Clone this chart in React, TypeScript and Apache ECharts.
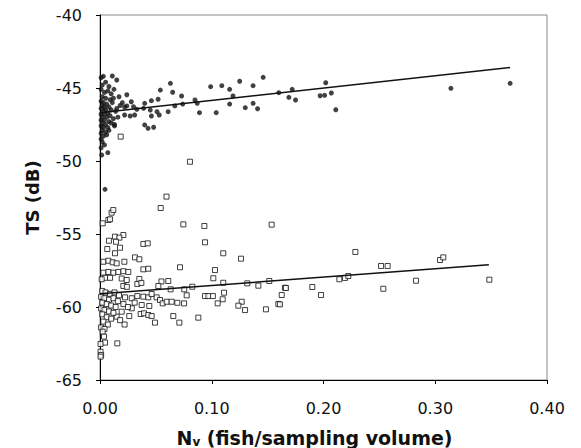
import React, { useEffect, useRef } from "react";
import * as echarts from "echarts";

const xTicks = [0, 0.1, 0.2, 0.3, 0.4];
const yRange = [-65, -40];

// Filled circles (upper group)
const filledPoints: number[][] = [
  [0.001,-44.3],[0.003,-44.2],[0.002,-44.8],[0.005,-44.6],[0.008,-44.9],[0.001,-45.1],[0.004,-45.3],[0.007,-45.2],[0.010,-45.4],[0.002,-45.6],
  [0.005,-45.7],[0.009,-45.8],[0.001,-45.9],[0.003,-46.0],[0.006,-46.1],[0.011,-46.0],[0.002,-46.2],[0.004,-46.3],[0.008,-46.3],[0.001,-46.4],
  [0.005,-46.5],[0.010,-46.5],[0.003,-46.6],[0.007,-46.7],[0.001,-46.8],[0.004,-46.8],[0.009,-46.9],[0.002,-47.0],[0.006,-47.0],[0.012,-47.1],
  [0.001,-47.2],[0.004,-47.2],[0.008,-47.3],[0.002,-47.4],[0.005,-47.5],[0.010,-47.4],[0.001,-47.6],[0.003,-47.7],[0.007,-47.7],[0.002,-47.9],
  [0.005,-48.0],[0.001,-48.1],[0.003,-48.3],[0.006,-48.2],[0.001,-48.5],[0.002,-48.7],[0.004,-48.9],[0.001,-49.1],[0.008,-47.9],[0.014,-46.6],
  [0.016,-47.0],[0.013,-47.5],[0.018,-46.2],[0.012,-45.7],[0.015,-46.4],[0.020,-46.0],[0.022,-46.3],
  [0.011,-44.18],[0.015,-44.45],[0.0125,-45.09],[0.024,-45.46],[0.017,-45.6],[0.063,-44.68],[0.054,-45.14],[0.065,-45.29],[0.073,-45.55],
  [0.099,-44.91],[0.109,-44.84],[0.116,-45.09],[0.119,-45.55],[0.125,-44.54],[0.137,-44.84],[0.146,-44.27],[0.160,-45.32],[0.169,-45.64],
  [0.046,-45.87],[0.052,-45.77],[0.040,-46.05],[0.028,-45.94],[0.030,-46.28],[0.024,-46.23],[0.039,-46.39],[0.033,-46.46],[0.045,-46.51],
  [0.051,-46.62],[0.053,-46.85],[0.061,-46.62],[0.046,-46.92],[0.040,-47.53],[0.043,-47.76],[0.048,-47.69],[0.067,-46.23],[0.074,-46.10],
  [0.085,-45.82],[0.087,-46.05],[0.089,-46.69],[0.104,-46.69],[0.116,-46.10],[0.130,-46.35],[0.137,-46.05],[0.141,-46.42],[0.022,-46.85],
  [0.027,-46.92],[0.031,-46.85],[0.013,-47.60],[0.007,-49.43],[0.0015,-49.59],[0.0045,-51.94],[0.172,-45.09],[0.175,-45.82],[0.202,-44.64],
  [0.197,-45.53],[0.201,-45.50],[0.207,-45.34],[0.211,-46.49],[0.314,-45.02],[0.367,-44.68]
];

// Open squares (lower group)
const openPoints: number[][] = [
  [0.0805,-50.05],[0.0185,-48.33],
  [0.0595,-52.44],[0.0543,-53.22],[0.0104,-53.54],[0.0119,-53.36],[0.0075,-54.04],[0.009,-53.99],[0.0024,-54.27],[0.0746,-54.34],[0.0934,-54.45],[0.1536,-54.36],
  [0.0209,-55.07],[0.0134,-55.18],[0.0173,-55.25],[0.008,-55.46],[0.0143,-55.53],[0.0388,-55.68],[0.0427,-55.64],[0.094,-55.57],[0.0179,-55.94],[0.0065,-56.03],
  [0.0134,-56.32],[0.1103,-56.32],[0.0313,-56.6],[0.0352,-56.73],[0.1262,-56.69],[0.003,-56.9],[0.0075,-56.83],[0.0113,-56.94],[0.0149,-57.01],[0.0218,-56.9],
  [0.0716,-57.28],[0.0388,-57.42],[0.0432,-57.38],[0.1029,-57.47],
  [0.003,-57.65],[0.0075,-57.6],[0.012,-57.65],[0.0164,-57.6],[0.0209,-57.55],[0.0253,-57.6],[0.0045,-58.0],[0.0015,-58.1],[0.009,-58.0],[0.0194,-58.05],
  [0.0239,-58.15],[0.0352,-58.08],[0.0611,-58.22],[0.055,-58.25],[0.1014,-58.03],[0.1103,-58.34],[0.1417,-58.54],[0.0522,-58.56],[0.0209,-58.56],[0.024,-58.62],
  [0.0334,-58.42],[0.037,-58.35],[0.0632,-58.79],[0.0776,-59.2],[0.111,-59.02],[0.094,-59.25],[0.097,-59.25],[0.101,-59.25],[0.1098,-59.47],[0.1053,-59.75],
  [0.1268,-59.64],[0.1238,-59.91],[0.1298,-60.21],[0.1485,-60.16],[0.1596,-59.79],[0.1626,-59.18],[0.1655,-58.68],[0.1318,-58.38],[0.1515,-58.22],[0.0826,-58.61],
  [0.0754,-58.79],
  [0.0224,-59.34],[0.0284,-59.4],[0.0334,-59.25],[0.0388,-59.29],[0.0432,-59.34],[0.0462,-59.11],[0.0507,-59.34],[0.0537,-59.52],[0.0561,-59.75],[0.0597,-59.64],
  [0.0641,-59.64],[0.0692,-59.71],[0.0752,-59.75],[0.0373,-59.86],[0.0441,-59.93],[0.0284,-60.09],[0.0194,-60.32],[0.0364,-60.48],[0.0394,-60.43],[0.0432,-60.55],
  [0.0462,-60.62],[0.0262,-60.62],[0.0149,-60.66],[0.0656,-60.62],[0.071,-61.07],[0.088,-60.73],[0.0492,-61.07],
  [0.002,-58.9],[0.005,-59.0],[0.009,-59.1],[0.013,-59.0],[0.017,-59.2],[0.001,-59.3],[0.004,-59.4],[0.008,-59.5],[0.012,-59.4],[0.016,-59.6],
  [0.002,-59.7],[0.006,-59.8],[0.010,-59.9],[0.014,-60.0],[0.001,-60.1],[0.004,-60.2],[0.008,-60.3],[0.012,-60.4],[0.002,-60.5],[0.006,-60.7],
  [0.010,-60.8],[0.003,-61.0],[0.007,-61.2],[0.001,-61.4],[0.004,-61.5],[0.0024,-61.69],[0.0036,-62.03],[0.0045,-62.44],[0.0005,-62.53],[0.0005,-63.06],
  [0.001,-63.29],[0.0155,-62.49],[0.0005,-63.4],[0.021,-59.8],[0.025,-60.0],[0.031,-59.7],[0.018,-60.9],[0.022,-61.2],
  [0.2285,-56.23],[0.2515,-57.19],[0.2574,-57.19],[0.3043,-56.78],[0.3072,-56.6],[0.2142,-58.1],[0.2192,-58.01],[0.2222,-57.88],[0.2828,-58.2],[0.3484,-58.13],
  [0.1664,-58.7],[0.19,-58.63],[0.1978,-59.18],[0.2535,-58.75],[0.161,-59.82]
];

// Regression lines
const fitFilled: number[][] = [[0, -46.7], [0.367, -43.6]];
const fitOpen: number[][] = [[0, -59.1], [0.348, -57.1]];

const FONT = "'DejaVu Sans', 'Liberation Sans', Arial, sans-serif";

export default function App() {
  const ref = useRef<HTMLDivElement>(null);
  useEffect(() => {
    if (!ref.current) return;
    const chart = echarts.init(ref.current, undefined, { renderer: "svg" });
    chart.setOption({
      animation: false,
      backgroundColor: "#fff",
      grid: {
        left: 100,
        right: 34,
        top: 15,
        bottom: 68,
        show: true,
        borderColor: "#888",
        borderWidth: 1,
        outerBoundsMode: "none",
        containLabel: false,
      },
      xAxis: {
        type: "value",
        min: xTicks[0],
        max: xTicks[xTicks.length - 1],
        interval: 0.1,
        splitLine: { show: false },
        axisLine: { show: true, onZero: false, lineStyle: { color: "#000", width: 1 } },
        axisTick: { show: true, inside: false, length: 4, lineStyle: { color: "#000" } },
        axisLabel: {
          color: "#111",
          fontFamily: FONT,
          fontSize: 16,
          margin: 20,
          formatter: (v: number) => v.toFixed(2),
        },
        name: "{a|N}{sub|v}{a| (fish/sampling volume)}",
        nameLocation: "middle",
        nameGap: 47,
        nameTextStyle: {
          padding: [0, 18, 0, 0],
          rich: {
            a: { fontFamily: FONT, fontSize: 19, fontWeight: "bold", color: "#111" },
            sub: { fontFamily: FONT, fontSize: 12, fontWeight: "bold", color: "#111", padding: [9, 0, 0, 0] },
          },
        },
      },
      yAxis: {
        type: "value",
        min: yRange[0],
        max: yRange[1],
        interval: 5,
        splitLine: { show: false },
        axisLine: { show: true, onZero: false, lineStyle: { color: "#000", width: 1 } },
        axisTick: { show: true, inside: false, length: 4, lineStyle: { color: "#000" } },
        axisLabel: { color: "#111", fontFamily: FONT, fontSize: 16, margin: 18 },
        name: "TS (dB)",
        nameLocation: "middle",
        nameGap: 59,
        nameTextStyle: { fontFamily: FONT, fontSize: 18, fontWeight: "bold", color: "#111" },
      },
      series: [
        {
          type: "scatter",
          data: openPoints,
          symbol: "rect",
          symbolSize: 5,
          itemStyle: { color: "#fff", borderColor: "#111", borderWidth: 1 },
          z: 2,
        },
        {
          type: "scatter",
          data: filledPoints,
          symbol: "circle",
          symbolSize: 5,
          itemStyle: { color: "#111" },
          z: 3,
        },
        {
          type: "line",
          data: fitFilled,
          symbol: "none",
          lineStyle: { color: "#111", width: 1.5 },
          z: 4,
        },
        {
          type: "line",
          data: fitOpen,
          symbol: "none",
          lineStyle: { color: "#111", width: 1.5 },
          z: 4,
        },
      ],
    });
    return () => chart.dispose();
  }, []);
  return <div ref={ref} style={{ width: 581, height: 448, position: "absolute", left: 0, top: 0 }} />;
}
